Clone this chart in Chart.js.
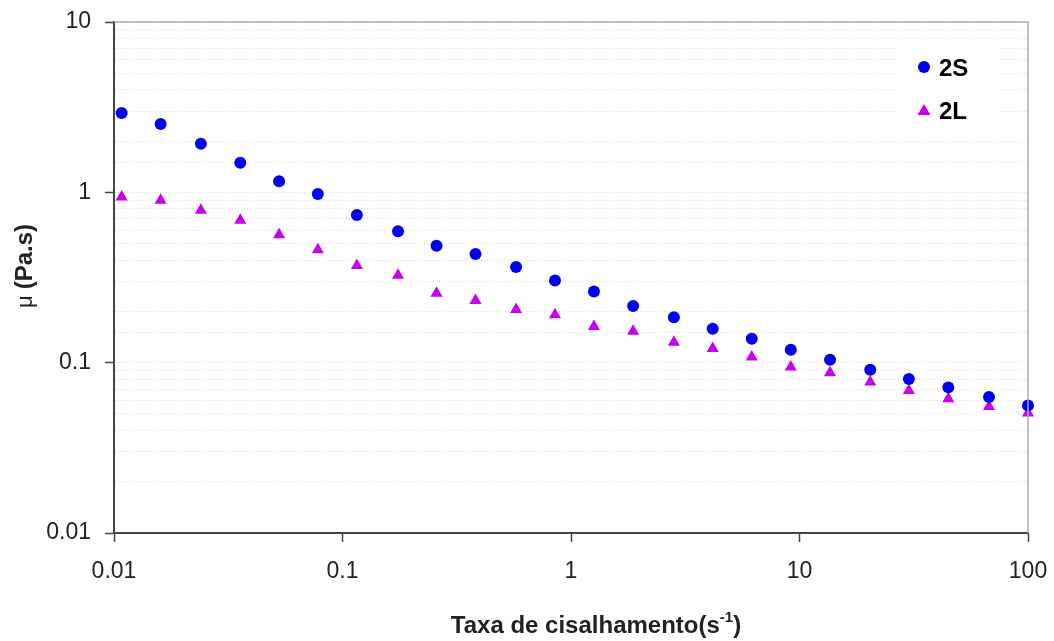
<!DOCTYPE html>
<html>
<head>
<meta charset="utf-8">
<script src="https://cdn.jsdelivr.net/npm/chart.js@4/dist/chart.umd.min.js"></script>
<style>
  html, body { margin: 0; padding: 0; background: #fff; }
  #wrap { width: 1054px; height: 641px; }
</style>
</head>
<body>
<div id="wrap"><canvas id="mycanvas"></canvas></div>
<script>
// shear rate (s-1)
var taxa = [0.0108, 0.0160, 0.0240, 0.0357, 0.0528, 0.078, 0.1156, 0.175, 0.258, 0.382,
            0.575, 0.851, 1.26, 1.87, 2.82, 4.17, 6.18, 9.16, 13.6, 20.4, 30.1, 44.8, 67.5, 100];
// viscosity (Pa.s)
var mu2S = [2.92, 2.52, 1.93, 1.49, 1.16, 0.977, 0.736, 0.590, 0.486, 0.434,
            0.364, 0.304, 0.262, 0.215, 0.185, 0.158, 0.138, 0.119, 0.104, 0.0910,
            0.0801, 0.0716, 0.0628, 0.0561];
var mu2L = [0.938, 0.897, 0.784, 0.685, 0.564, 0.460, 0.372, 0.326, 0.256, 0.232,
            0.205, 0.191, 0.163, 0.153, 0.132, 0.121, 0.108, 0.0942, 0.0873, 0.0769,
            0.0687, 0.0615, 0.0553, 0.0506];
var xTickLabels = ['0.01', '0.1', '1', '10', '100'];
var yTickLabels = ['0.01', '0.1', '1', '10'];
var seriesNames = ['2S', '2L'];

function pts(xs, ys) {
  var out = [];
  for (var i in xs) out.push({x: xs[i], y: ys[i]});
  return out;
}
function isMajor(v) {
  var l = Math.log10(v);
  return Math.abs(l - Math.round(l)) < 1e-6;
}

var FONT = '"Liberation Sans", Arial, sans-serif';

var decor = {
  id: 'decor',
  beforeDatasetsDraw: function(chart) {
    var ctx = chart.ctx;
    ctx.save();
    ctx.fillStyle = '#fff';
    ctx.fillRect(897, 40, 103, 97);
    ctx.restore();
  },
  afterDraw: function(chart) {
    var ctx = chart.ctx, a = chart.chartArea;
    ctx.save();
    // top and right frame
    ctx.strokeStyle = '#9fb3b3';
    ctx.lineWidth = 1.5;
    ctx.beginPath();
    ctx.moveTo(a.left, a.top);
    ctx.lineTo(a.right, a.top);
    ctx.lineTo(a.right, a.bottom);
    ctx.stroke();

    // legend
    var ds = chart.data.datasets;
    ctx.fillStyle = ds[0].backgroundColor;
    ctx.beginPath();
    ctx.arc(924, 67, 6, 0, Math.PI * 2);
    ctx.fill();
    ctx.fillStyle = ds[1].backgroundColor;
    ctx.beginPath();
    ctx.moveTo(924, 104);
    ctx.lineTo(930.5, 115);
    ctx.lineTo(917.5, 115);
    ctx.closePath();
    ctx.fill();
    ctx.fillStyle = '#000';
    ctx.font = 'bold 24px ' + FONT;
    ctx.textBaseline = 'alphabetic';
    ctx.fillText(ds[0].label, 939, 76);
    ctx.fillText(ds[1].label, 939, 119);

    // x title with superscript
    ctx.fillStyle = '#222';
    var t1 = 'Taxa de cisalhamento(s', t2 = '-1', t3 = ')';
    ctx.font = 'bold 24px ' + FONT;
    var w1 = ctx.measureText(t1).width, w3 = ctx.measureText(t3).width;
    ctx.font = 'bold 15px ' + FONT;
    var w2 = ctx.measureText(t2).width;
    var x0 = 596 - (w1 + w2 + w3) / 2;
    ctx.font = 'bold 24px ' + FONT;
    ctx.fillText(t1, x0, 633);
    ctx.font = 'bold 15px ' + FONT;
    ctx.fillText(t2, x0 + w1, 622);
    ctx.font = 'bold 24px ' + FONT;
    ctx.fillText(t3, x0 + w1 + w2, 633);

    // y title: mu normal, (Pa.s) bold
    ctx.translate(32, 266);
    ctx.rotate(-Math.PI / 2);
    ctx.font = '22px ' + FONT;
    var m = '\u03bc ';
    var wm = ctx.measureText(m).width;
    ctx.font = 'bold 24px ' + FONT;
    var wp = ctx.measureText('(Pa.s)').width;
    var s = -(wm + wp) / 2;
    ctx.font = '22px ' + FONT;
    ctx.fillText(m, s, 0);
    ctx.font = 'bold 24px ' + FONT;
    ctx.fillText('(Pa.s)', s + wm, 0);
    ctx.restore();
  }
};

var ctx = document.getElementById('mycanvas');
var chart = new Chart(ctx, {
  type: 'scatter',
  data: {
    datasets: [
      {
        label: seriesNames[0],
        data: pts(taxa, mu2S),
        pointStyle: 'circle',
        pointRadius: 6,
        pointHoverRadius: 6,
        backgroundColor: '#0000f0',
        borderColor: '#0000f0',
        borderWidth: 0,
        clip: false
      },
      {
        label: seriesNames[1],
        data: pts(taxa, mu2L),
        pointStyle: 'triangle',
        pointRadius: 7,
        pointHoverRadius: 7,
        backgroundColor: '#c800f0',
        borderColor: '#c800f0',
        borderWidth: 0,
        clip: false
      }
    ]
  },
  options: {
    responsive: true,
    maintainAspectRatio: false,
    animation: false,
    layout: { padding: { top: 22, right: 26, left: 0, bottom: 0 } },
    plugins: {
      legend: { display: false },
      tooltip: { enabled: false }
    },
    scales: {
      x: {
        type: 'logarithmic',
        min: 0.01,
        max: 100,
        afterFit: function(s) { s.height = 108; s.paddingLeft = 0; s.paddingRight = 0; },
        border: { color: '#444', width: 2 },
        grid: {
          drawOnChartArea: false,
          tickLength: 9,
          tickWidth: 1.5,
          tickColor: function(c) { return isMajor(c.tick.value) ? '#444' : 'rgba(0,0,0,0)'; }
        },
        ticks: {
          autoSkip: false,
          maxRotation: 0,
          padding: 16,
          color: '#222',
          font: { family: FONT, size: 23 },
          callback: function(v) {
            return isMajor(v) ? xTickLabels[Math.round(Math.log10(v)) + 2] : '';
          }
        }
      },
      y: {
        type: 'logarithmic',
        min: 0.01,
        max: 10,
        afterFit: function(s) { s.width = 114; s.paddingTop = 0; s.paddingBottom = 0; },
        border: { color: '#444', width: 2, dash: [1, 2] },
        grid: {
          color: '#d2dada',
          lineWidth: 1,
          tickLength: 9,
          tickWidth: 1.5,
          tickBorderDash: [],
          tickColor: function(c) { return isMajor(c.tick.value) ? '#444' : 'rgba(0,0,0,0)'; }
        },
        ticks: {
          autoSkip: false,
          padding: 14,
          color: '#222',
          font: { family: FONT, size: 23 },
          callback: function(v) {
            return isMajor(v) ? yTickLabels[Math.round(Math.log10(v)) + 2] : '';
          }
        }
      }
    }
  },
  plugins: [decor]
});
</script>
</body>
</html>
